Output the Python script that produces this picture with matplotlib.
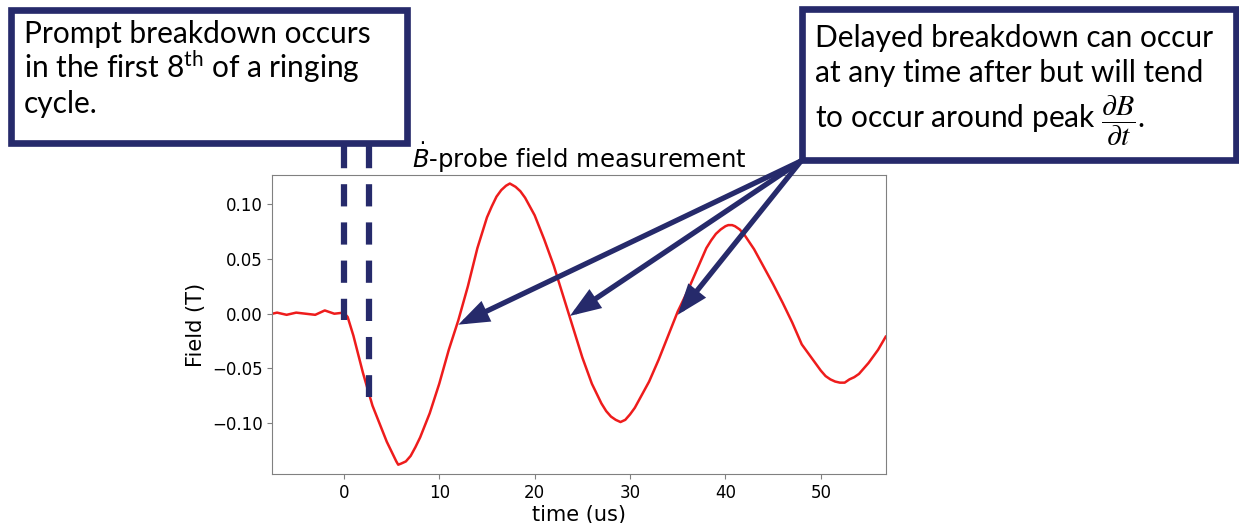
import matplotlib
matplotlib.use("Agg")
import matplotlib.pyplot as plt
from matplotlib.patches import Rectangle

# B-dot probe trace (time in us, field in T)
time = [-7.5, -7, -6, -5, -4, -3, -2, -1, 0, 0.4, 1, 2, 3, 4, 4.5, 5, 5.5, 5.7, 6, 6.5,
        7, 7.5, 8, 9, 10, 11, 12, 13, 14, 15, 15.5, 16, 16.5, 17, 17.4, 18, 18.5, 19,
        19.5, 20, 21, 22, 23, 24, 25, 26, 27, 27.5, 28, 28.5, 29, 29.5, 30, 30.5, 31,
        32, 33, 34, 35, 36, 37, 38, 38.5, 39, 39.5, 40, 40.3, 40.7, 41, 41.5, 42, 43,
        44, 45, 46, 47, 48, 49, 50, 50.5, 51, 51.5, 52, 52.5, 53, 53.5, 54, 55, 56, 56.8]
field = [0.000, 0.001, -0.001, 0.001, 0.000, -0.001, 0.003, 0.000, 0.001, -0.003,
         -0.020, -0.054, -0.084, -0.106, -0.117, -0.126, -0.135, -0.138, -0.137, -0.135,
         -0.130, -0.122, -0.113, -0.091, -0.064, -0.033, -0.006, 0.025, 0.060, 0.088,
         0.098, 0.107, 0.113, 0.117, 0.119, 0.116, 0.112, 0.106, 0.098, 0.090,
         0.068, 0.044, 0.016, -0.012, -0.040, -0.064, -0.082, -0.089, -0.094, -0.097,
         -0.099, -0.097, -0.092, -0.086, -0.078, -0.062, -0.042, -0.020, 0.002, 0.020,
         0.040, 0.060, 0.067, 0.073, 0.077, 0.080, 0.081, 0.081, 0.080, 0.077,
         0.072, 0.059, 0.043, 0.027, 0.010, -0.008, -0.028, -0.040, -0.052, -0.057,
         -0.060, -0.062, -0.063, -0.063, -0.060, -0.058, -0.055, -0.045, -0.033, -0.021]

x_ticks = [0, 10, 20, 30, 40, 50]
y_ticks = [-0.10, -0.05, 0.00, 0.05, 0.10]

# prompt window markers (x position, lower end)
prompt_x = [0.0, 2.6]
prompt_bottom = [-0.006, -0.076]

# zero crossings pointed at by the arrows
arrow_tx = [12.0, 23.7, 35.0]
arrow_ty = [-0.010, -0.002, -0.001]

navy = "#262a6b"
W, H = 1239, 523

plt.rcParams["lines.scale_dashes"] = False
plt.rcParams["mathtext.rm"] = "Lato"
plt.rcParams["mathtext.it"] = "Lato:italic"

fig = plt.figure(figsize=(W / 100, H / 100), dpi=100)
ax = fig.add_axes([272.3 / W, 1 - 474 / H, (885.7 - 272.3) / W, (474 - 175) / H])

ax.plot(time, field, color="#ee1c1c", lw=1.8)
ax.set_xlim(-7.5, 56.8)
ax.set_ylim(-0.1465, 0.1268)
ax.set_xticks(x_ticks)
ax.set_yticks(y_ticks)
ax.set_yticklabels(["\u22120.10", "\u22120.05", "0.00", "0.05", "0.10"])
ax.tick_params(labelsize=12, color="#808080")
for s in ax.spines.values():
    s.set_color("#808080")
ax.set_xlabel("time (us)", fontsize=15, labelpad=2)
ax.set_ylabel("Field (T)", fontsize=15)
ax.set_title(r"$\dot{B}$-probe field measurement", fontsize=17.5, pad=5)

# dashed markers
for xv, yb in zip(prompt_x, prompt_bottom):
    ax.plot([xv, xv], [0.153, yb], color=navy, lw=4.5, dashes=(16, 11.5),
            clip_on=False, zorder=5)

# arrows from the delayed-breakdown box
for tx, ty in zip(arrow_tx, arrow_ty):
    ax.annotate("", xy=(tx, ty), xycoords="data",
                xytext=(801, H - 161), textcoords="figure pixels",
                arrowprops=dict(arrowstyle="-|>,head_length=1.5,head_width=0.55",
                                lw=3.8, color=navy, shrinkA=0, shrinkB=0,
                                joinstyle="miter"),
                annotation_clip=False, zorder=6)

# text boxes
fig.add_artist(Rectangle((11.3 / W, 1 - 143.3 / H), (407.4 - 11.3) / W, (143.3 - 10.3) / H,
                         transform=fig.transFigure, facecolor="white",
                         edgecolor=navy, lw=4.8, zorder=3))
fig.add_artist(Rectangle((801.7 / W, 1 - 160 / H), (1236 - 801.7) / W, (160 - 9.3) / H,
                         transform=fig.transFigure, facecolor="white",
                         edgecolor=navy, lw=4.8, zorder=3))

box_font = dict(family="Lato", fontsize=21.5, color="black", va="baseline",
                ha="left", zorder=4)
fig.text(24 / W, 1 - 42.7 / H, "Prompt breakdown occurs", **box_font)
fig.text(24 / W, 1 - 78 / H, r"in the first 8$^{\mathrm{th}}$ of a ringing",
         math_fontfamily="custom", **box_font)
fig.text(24 / W, 1 - 113 / H, "cycle.", **box_font)

fig.text(815 / W, 1 - 46.7 / H, "Delayed breakdown can occur", fontstretch="condensed",
         **box_font)
fig.text(815 / W, 1 - 82 / H, "at any time after but will tend", **box_font)
fig.text(815 / W, 1 - 128 / H, r"to occur around peak $\dfrac{\partial B}{\partial t}$.",
         math_fontfamily="stix", **box_font)

fig.savefig("out.png", dpi=100)
